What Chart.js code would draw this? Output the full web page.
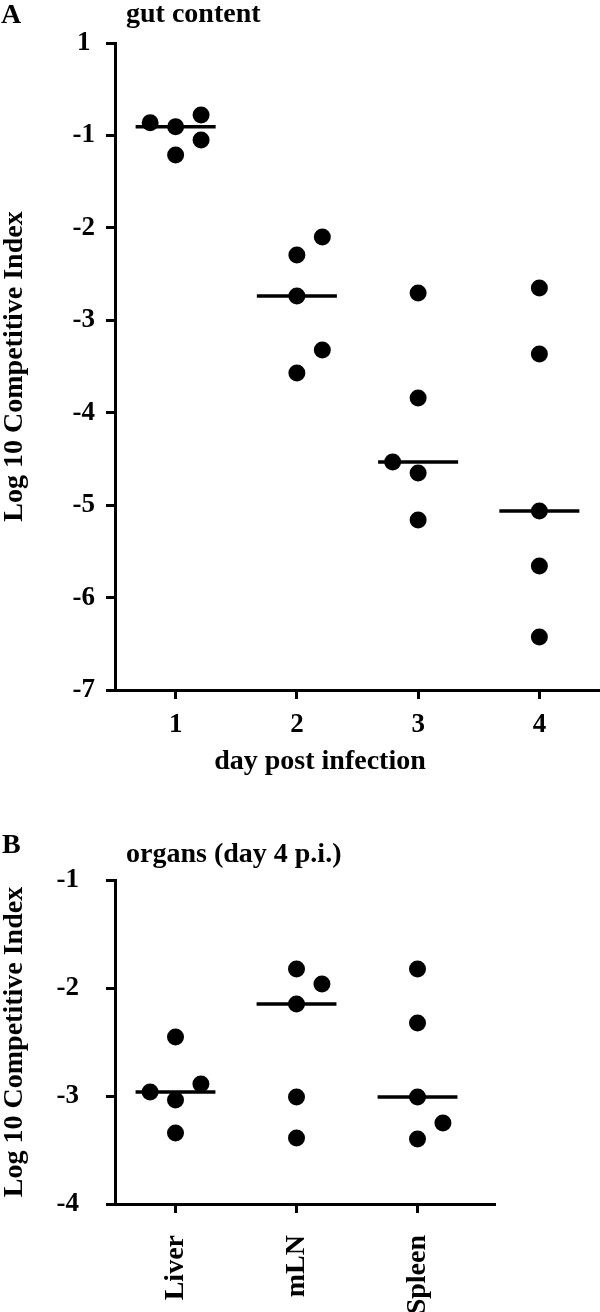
<!DOCTYPE html>
<html>
<head>
<meta charset="utf-8">
<script src="https://cdn.jsdelivr.net/npm/chart.js@4.4.1/dist/chart.umd.min.js"></script>
<style>
  html, body { margin: 0; padding: 0; background: #fff; }
  #wrap { position: relative; width: 600px; height: 1312px; }
  canvas { position: absolute; left: 0; }
</style>
</head>
<body>
<div id="wrap">
  <canvas id="chartA" width="600" height="800" style="top:0"></canvas>
  <canvas id="chartB" width="600" height="512" style="top:800px"></canvas>
</div>
<script>
// ---------- Panel A: gut content ----------
const daysA = [1, 2, 3, 4];
const dayLabelsA = ['1', '2', '3', '4'];
const day1 = [-0.862, -0.906, -0.779, -1.049, -1.212];
const day2 = [-2.099, -2.294, -2.737, -3.322, -3.570];
const day3 = [-2.705, -3.841, -4.533, -4.652, -5.161];
const day4 = [-2.651, -3.365, -5.063, -5.658, -6.427];
const jitterDay1 = [-0.21, 0, 0.21, 0.21, 0];
const jitterDay2 = [0.21, 0, 0, 0.21, 0];
const jitterDay3 = [0, 0, -0.21, 0, 0];
const jitterDay4 = [0, 0, 0, 0, 0];
const mediansA = [-0.906, -2.737, -4.533, -5.063];
const yTickValuesA = [0, -1, -2, -3, -4, -5, -6, -7];
const yTickLabelsA = ['1', '-1', '-2', '-3', '-4', '-5', '-6', '-7'];

// ---------- Panel B: organs (day 4 p.i.) ----------
const organs = ['Liver', 'mLN', 'Spleen'];
const organPos = [1, 2, 3];
const liver = [-2.454, -2.963, -3.037, -2.889, -3.343];
const mln = [-1.824, -1.963, -2.148, -3.009, -3.389];
const spleen = [-1.824, -2.324, -3.009, -3.250, -3.398];
const jitterLiver = [0, -0.21, 0, 0.21, 0];
const jitterMln = [0, 0.21, 0, 0, 0];
const jitterSpleen = [0, 0, 0, 0.21, 0];
const mediansB = [-2.963, -2.148, -3.009];
const yTickValuesB = [-1, -2, -3, -4];
const yTickLabelsB = ['-1', '-2', '-3', '-4'];

const FAM = "'Liberation Serif', 'Times New Roman', serif";
const MEDIAN_HALF = 0.33;

function points(groups, jitters, positions) {
  const out = [];
  groups.forEach((vals, g) => {
    vals.forEach((v, i) => out.push({ x: positions[g] + jitters[g][i], y: v }));
  });
  return out;
}
function medianSegs(meds, positions) {
  const out = [];
  meds.forEach((m, i) => {
    out.push({ x: positions[i] - MEDIAN_HALF, y: m });
    out.push({ x: positions[i] + MEDIAN_HALF, y: m });
    out.push({ x: positions[i] + 0.5, y: null });
  });
  return out;
}

const textPlugin = {
  id: 'texts',
  afterDraw(chart, args, opts) {
    const ctx = chart.ctx;
    ctx.save();
    ctx.fillStyle = '#000';
    ctx.textBaseline = 'alphabetic';
    (opts.items || []).forEach(t => {
      ctx.font = t.font;
      ctx.textAlign = t.align || 'left';
      ctx.fillText(t.text, t.x, t.y);
    });
    ctx.restore();
  }
};

function axisCommon() {
  return {
    grid: { drawOnChartArea: false, drawTicks: true, tickLength: 9, lineWidth: 3, color: '#000' },
    border: { display: true, width: 3, color: '#000' }
  };
}

function makeChart(id, cfg) {
  return new Chart(document.getElementById(id), {
    type: 'scatter',
    data: {
      datasets: [
        { data: cfg.pts, pointRadius: 8.5, pointHoverRadius: 8.5, pointBackgroundColor: '#000', pointBorderWidth: 0, showLine: false },
        { data: cfg.meds, showLine: true, spanGaps: false, borderColor: '#000', borderWidth: 3.5, pointRadius: 0, pointHoverRadius: 0, borderCapStyle: 'butt' }
      ]
    },
    options: {
      responsive: false,
      animation: false,
      devicePixelRatio: 1,
      layout: { padding: cfg.padding, autoPadding: false },
      plugins: { legend: { display: false }, tooltip: { enabled: false }, texts: { items: cfg.texts } },
      scales: {
        x: Object.assign(axisCommon(), {
          type: 'linear', min: cfg.xmin, max: cfg.xmax,
          afterBuildTicks: s => { s.ticks = cfg.xTicks.map(v => ({ value: v })); },
          ticks: {
            callback: (v) => cfg.xLabels[cfg.xTicks.indexOf(v)],
            font: { family: FAM, size: cfg.xFont, weight: 'bold' }, color: '#000',
            padding: cfg.xPad, minRotation: cfg.rot, maxRotation: cfg.rot, autoSkip: false
          },
          afterFit: s => { s.height = cfg.xHeight; }
        }),
        y: Object.assign(axisCommon(), {
          type: 'linear', min: cfg.ymin, max: cfg.ymax,
          afterBuildTicks: s => { s.ticks = cfg.yTicks.map(v => ({ value: v })); },
          ticks: {
            callback: (v) => cfg.yLabels[cfg.yTicks.indexOf(v)],
            font: { family: FAM, size: 27, weight: 'bold' }, color: '#000',
            padding: cfg.yPad, crossAlign: 'center', autoSkip: false
          },
          title: { display: true, text: 'Log 10 Competitive Index', color: '#000',
                   font: { family: FAM, size: 28, weight: 'bold', lineHeight: 1 }, padding: { top: 1, bottom: 0 } },
          afterFit: s => { s.width = 115; }
        })
      }
    },
    plugins: [textPlugin]
  });
}

makeChart('chartA', {
  pts: points([day1, day2, day3, day4], [jitterDay1, jitterDay2, jitterDay3, jitterDay4], daysA),
  meds: medianSegs(mediansA, daysA),
  padding: { top: 43, right: 0, left: 0, bottom: 0 },
  xmin: 0.5, xmax: 4.5, xTicks: daysA, xLabels: dayLabelsA, xFont: 27, xPad: 10, rot: 0, xHeight: 110,
  ymin: -7, ymax: 0, yTicks: yTickValuesA, yLabels: yTickLabelsA, yPad: 11,
  texts: [
    { text: 'A', x: 1, y: 23, font: "bold 28px " + FAM },
    { text: 'gut content', x: 126, y: 22, font: "bold 28px " + FAM },
    { text: 'day post infection', x: 320, y: 769, align: 'center', font: "bold 28px " + FAM }
  ]
});

makeChart('chartB', {
  pts: points([liver, mln, spleen], [jitterLiver, jitterMln, jitterSpleen], organPos),
  meds: medianSegs(mediansB, organPos),
  padding: { top: 80, right: 106, left: 0, bottom: 0 },
  xmin: 0.5, xmax: 3.632, xTicks: organPos, xLabels: organs, xFont: 28, xPad: 22, rot: 90, xHeight: 108,
  ymin: -4, ymax: -1, yTicks: yTickValuesB, yLabels: yTickLabelsB, yPad: 27,
  texts: [
    { text: 'B', x: 2, y: 53, font: "bold 28px " + FAM },
    { text: 'organs (day 4 p.i.)', x: 126, y: 62, font: "bold 28px " + FAM }
  ]
});
</script>
</body>
</html>
